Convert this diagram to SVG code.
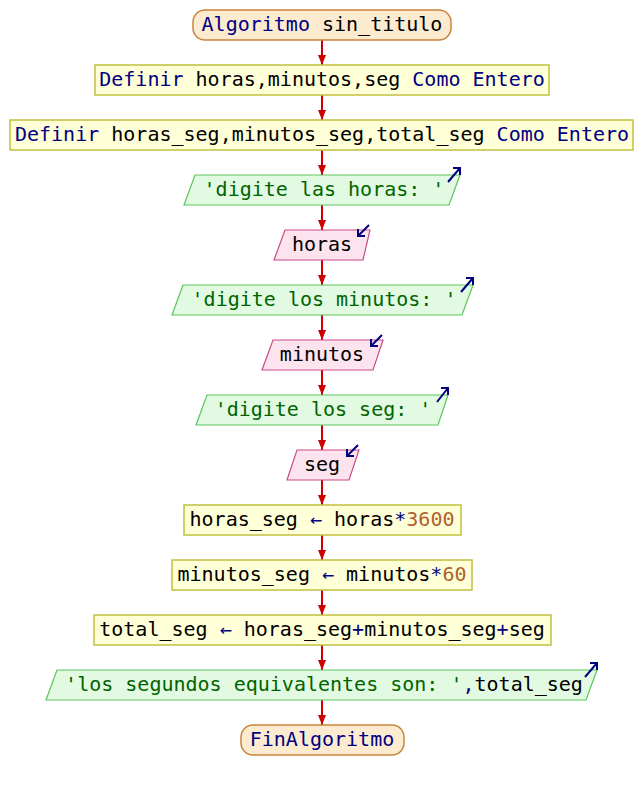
<svg xmlns="http://www.w3.org/2000/svg" width="644" height="790" viewBox="0 0 644 790">
<defs>
<style>
text{font-family:"DejaVu Sans Mono","Liberation Mono",monospace;font-size:20px;text-anchor:middle;fill:#000}
.term{fill:#fdebd0;stroke:#c8843c;stroke-width:1.5}
.proc{fill:#ffffd8;stroke:#c0c040;stroke-width:1.5}
.out{fill:#e2fae2;stroke:#5cc45c;stroke-width:1.2}
.inp{fill:#fde3ee;stroke:#c84c88;stroke-width:1.2}
.kw{fill:#000080}
.str{fill:#006400}
.num{fill:#b0602c}
.op{fill:#000080}
.icon{fill:none;stroke:#000080;stroke-width:2}
.conn{stroke:#cc0000;stroke-width:2;fill:none}
</style>
<marker id="ah" viewBox="0 0 10 8" refX="10" refY="4" markerWidth="5" markerHeight="4" orient="auto" markerUnits="strokeWidth">
<path d="M0,0 L10,4 L0,8 Z" fill="#cc0000"/>
</marker>
</defs>
<rect width="644" height="790" fill="#fff"/>
<g id="connectors">
<line class="conn" x1="322" y1="40" x2="322" y2="65" marker-end="url(#ah)"/>
<line class="conn" x1="322" y1="95" x2="322" y2="120" marker-end="url(#ah)"/>
<line class="conn" x1="322" y1="150" x2="322" y2="175" marker-end="url(#ah)"/>
<line class="conn" x1="322" y1="205" x2="322" y2="230" marker-end="url(#ah)"/>
<line class="conn" x1="322" y1="260" x2="322" y2="285" marker-end="url(#ah)"/>
<line class="conn" x1="322" y1="315" x2="322" y2="340" marker-end="url(#ah)"/>
<line class="conn" x1="322" y1="370" x2="322" y2="395" marker-end="url(#ah)"/>
<line class="conn" x1="322" y1="425" x2="322" y2="450" marker-end="url(#ah)"/>
<line class="conn" x1="322" y1="480" x2="322" y2="505" marker-end="url(#ah)"/>
<line class="conn" x1="322" y1="535" x2="322" y2="560" marker-end="url(#ah)"/>
<line class="conn" x1="322" y1="590" x2="322" y2="615" marker-end="url(#ah)"/>
<line class="conn" x1="322" y1="645" x2="322" y2="670" marker-end="url(#ah)"/>
<line class="conn" x1="322" y1="700" x2="322" y2="725" marker-end="url(#ah)"/>
</g>
<g id="n1">
<rect class="term" x="193" y="10" width="258" height="30" rx="12"/>
<text x="322" y="31"><tspan class="kw">Algoritmo</tspan> sin_titulo</text>
</g>
<g id="n2">
<rect class="proc" x="95" y="65" width="454" height="30"/>
<text x="322" y="86"><tspan class="kw">Definir</tspan> horas,minutos,seg <tspan class="kw">Como Entero</tspan></text>
</g>
<g id="n3">
<rect class="proc" x="10" y="120" width="623" height="30"/>
<text x="322" y="141"><tspan class="kw">Definir</tspan> horas_seg,minutos_seg,total_seg <tspan class="kw">Como Entero</tspan></text>
</g>
<g id="n4">
<polygon class="out" points="195,175 460,175 449,205 184,205"/>
<text x="324" y="196" class="str" xml:space="preserve">'digite las horas: '</text>
<path class="icon" d="M448,182 L460,168 M453,168 L460,168 L460,175"/>
</g>
<g id="n5">
<polygon class="inp" points="285,230 370,230 363,260 274,260"/>
<text x="322" y="251">horas</text>
<path class="icon" d="M369,225 L358,236 M358,229 L358,236 L365,236"/>
</g>
<g id="n6">
<polygon class="out" points="183,285 473,285 462,315 172,315"/>
<text x="324" y="306" class="str" xml:space="preserve">'digite los minutos: '</text>
<path class="icon" d="M461,292 L473,278 M466,278 L473,278 L473,285"/>
</g>
<g id="n7">
<polygon class="inp" points="273,340 383,340 373,370 262,370"/>
<text x="322" y="361">minutos</text>
<path class="icon" d="M382,335 L371,346 M371,339 L371,346 L378,346"/>
</g>
<g id="n8">
<polygon class="out" points="207,395 448,395 438,425 196,425"/>
<text x="323" y="416" class="str" xml:space="preserve">'digite los seg: '</text>
<path class="icon" d="M437,402 L448,388 M441,388 L448,388 L448,395"/>
</g>
<g id="n9">
<polygon class="inp" points="297,450 359,450 349,480 287,480"/>
<text x="322" y="471">seg</text>
<path class="icon" d="M358,445 L347,456 M347,449 L347,456 L354,456"/>
</g>
<g id="n10">
<rect class="proc" x="184" y="505" width="277" height="30"/>
<text x="322" y="526">horas_seg <tspan class="op">←</tspan> horas<tspan class="op">*</tspan><tspan class="num">3600</tspan></text>
</g>
<g id="n11">
<rect class="proc" x="172" y="560" width="300" height="30"/>
<text x="322" y="581">minutos_seg <tspan class="op">←</tspan> minutos<tspan class="op">*</tspan><tspan class="num">60</tspan></text>
</g>
<g id="n12">
<rect class="proc" x="94" y="615" width="457" height="30"/>
<text x="322" y="636">total_seg <tspan class="op">←</tspan> horas_seg<tspan class="op">+</tspan>minutos_seg<tspan class="op">+</tspan>seg</text>
</g>
<g id="n13">
<polygon class="out" points="57,670 597,670 586,700 46,700"/>
<text x="324" y="691"><tspan class="str">'los segundos equivalentes son: '</tspan><tspan class="kw">,</tspan>total_seg</text>
<path class="icon" d="M585,677 L597,663 M590,663 L597,663 L597,670"/>
</g>
<g id="n14">
<rect class="term" x="241" y="725" width="163" height="30" rx="12"/>
<text x="322" y="746" class="kw">FinAlgoritmo</text>
</g>
</svg>
